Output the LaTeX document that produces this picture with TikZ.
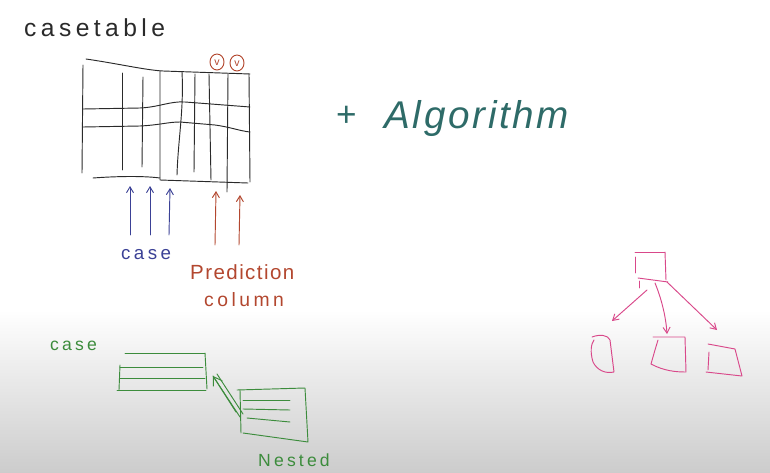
\documentclass[tikz,border=0pt]{standalone}
\usepackage{fontspec}
\newfontfamily\hand[LetterSpace=18]{Liberation Sans}
\newfontfamily\handn[LetterSpace=7]{Liberation Sans}
\usetikzlibrary{arrows.meta}
\definecolor{inkblack}{HTML}{2A2A2A}
\definecolor{inkteal}{HTML}{2E6B68}
\definecolor{inkblue}{HTML}{3B4196}
\definecolor{inkred}{HTML}{B3472F}
\definecolor{inkgreen}{HTML}{3C8C3C}
\definecolor{inkpink}{HTML}{D9488A}
\begin{document}
\begin{tikzpicture}[x=0.03cm,y=-0.03cm,line cap=round,line join=round,
  pen/.style={line width=0.8pt},
  barb/.style={-{Straight Barb[length=5pt,width=6pt]}},
  lbl/.style={inner sep=0pt,anchor=base west,font=\hand}]
\useasboundingbox (0,0) rectangle (770,473);
\fill[white] (0,0) rectangle (770,310);
\shade[top color=white,bottom color=black!20] (0,310) rectangle (770,473);

% ---------- case table ----------
\node[lbl,text=inkblack,font=\hand\fontsize{21}{24}\selectfont] (title) at (24,36) {casetable};
\begin{scope}[pen,draw=inkblack]
\draw (86,59) .. controls (120,64) and (145,70) .. (163,71) -- (250,74);
\draw (83,65) -- (82,173);
\draw (249,74) -- (250,182);
\draw (93,178) .. controls (120,176) and (145,176) .. (160,178);
\draw (160,71) -- (160,180) -- (248,183);
\draw (83,109) -- (140,108) .. controls (160,107) and (170,101) .. (185,102) -- (250,107);
\draw (83,127) -- (140,126) .. controls (160,125) and (168,122) .. (180,122) -- (215,125) .. controls (230,127) and (240,131) .. (250,132);
\draw (122,73) -- (122,170);
\draw (143,77) -- (142,167);
\draw (182,72) .. controls (184,110) and (178,140) .. (177,175);
\draw (195,74) -- (194,172);
\draw (209,74) -- (211,180);
\draw (228,74) -- (227,192);
\end{scope}
\draw[pen,draw=inkred] (217,62) circle[x radius=7,y radius=8];
\draw[pen,draw=inkred] (237,63) circle[x radius=7,y radius=8];
\node[inkred,font=\hand\fontsize{9}{9}\selectfont,inner sep=0pt] (v1) at (217,63) {v};
\node[inkred,font=\hand\fontsize{9}{9}\selectfont,inner sep=0pt] (v2) at (237,64) {v};

% blue arrows + label
\coordinate (ba1) at (130,235); \coordinate (bt1) at (130,186);
\coordinate (ba2) at (150,235); \coordinate (bt2) at (150,186);
\coordinate (ba3) at (169,235); \coordinate (bt3) at (170,188);
\draw[pen,draw=inkblue,barb] (ba1) -- (bt1);
\draw[pen,draw=inkblue,barb] (ba2) -- (bt2);
\draw[pen,draw=inkblue,barb] (ba3) -- (bt3);
\node[lbl,text=inkblue,font=\hand\fontsize{16}{18}\selectfont] (casel) at (121,259) {case};

% red arrows + label
\coordinate (ra1) at (215,245); \coordinate (rt1) at (216,191);
\coordinate (ra2) at (239,245); \coordinate (rt2) at (240,195);
\draw[pen,draw=inkred,barb] (ra1) -- (rt1);
\draw[pen,draw=inkred,barb] (ra2) -- (rt2);
\node[lbl,text=inkred,font=\handn\fontsize{17.5}{20}\selectfont] (pred) at (190,279) {Prediction};
\node[lbl,text=inkred,font=\hand\fontsize{16.5}{18}\selectfont] (col) at (204,306) {column};

% ---------- + Algorithm ----------
\node[lbl,text=inkteal,font=\handn\fontsize{30}{32}\selectfont] (plus) at (336,126) {+};
\node[lbl,text=inkteal,font=\handn\fontsize{33}{36}\selectfont\itshape] (alg) at (384,128) {Algorithm};

% ---------- tree ----------
\begin{scope}[pen,draw=inkpink]
\draw (635,252) -- (665,252);
\draw (635,257) -- (635,273);
\draw (665,252) -- (666,280);
\draw (638,278) -- (668,282);
\draw (639,281) -- (639,288);
\coordinate (rootL) at (647,290); \coordinate (kidL) at (612,321);
\coordinate (rootM) at (655,283); \coordinate (kidM) at (667,334);
\coordinate (rootR) at (667,282); \coordinate (kidR) at (717,330);
\draw[barb] (rootL) -- (kidL);
\draw[barb] (rootM) .. controls (662,300) and (666,318) .. (kidM);
\draw[barb] (rootR) -- (kidR);
% child boxes
\draw (592,337) .. controls (600,334) and (608,335) .. (610,340) -- (614,372) .. controls (605,374) and (597,370) .. (593,362) .. controls (590,352) and (591,344) .. (594,340);
\draw (653,337) -- (685,337) -- (686,372) .. controls (676,372) and (664,371) .. (651,364) -- (655,350) -- (658,340);
\draw (708,344) -- (735,349) -- (742,376) -- (706,372);
\draw (709,352) -- (708,370);
\end{scope}

% ---------- green nested case ----------
\node[lbl,text=inkgreen,font=\hand\fontsize{15}{16}\selectfont] (case2) at (50,350) {case};
\begin{scope}[pen,draw=inkgreen]
\draw (125,353) -- (205,353);
\draw (205,353) -- (207,389);
\draw (120,367) -- (203,367);
\draw (120,378) -- (205,378);
\draw (117,390) -- (206,390);
\draw (120,365) -- (119,390);
\draw (237,390) -- (305,388) -- (308,442) -- (243,433);
\draw (240,390) -- (241,433);
\draw (243,400) -- (290,400);
\draw (243,409) -- (290,410);
\draw (247,418) -- (290,422);
\coordinate (na) at (240,417); \coordinate (nb) at (213,376);
\draw (na) -- (nb);
\draw (243,414) -- (217,374);
\draw[-{Straight Barb[length=7pt,width=9pt]}] (236,412) -- (nb);
\end{scope}
\node[lbl,text=inkgreen,font=\hand\fontsize{15}{16}\selectfont] (nested) at (258,466) {Nested};
\end{tikzpicture}
\end{document}
